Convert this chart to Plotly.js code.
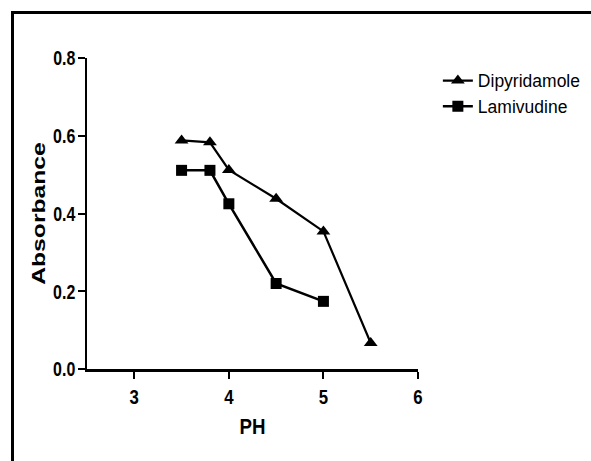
<!DOCTYPE html>
<html>
<head>
<meta charset="utf-8">
<script src="https://cdn.plot.ly/plotly-3.0.1.min.js"></script>
<style>
html,body{margin:0;padding:0;background:#fff;overflow:hidden;}
#frame{position:absolute;left:11px;top:11px;width:700px;height:600px;border-left:3.5px solid #000;border-top:3.5px solid #000;box-sizing:border-box;pointer-events:none;z-index:5;}
#chart{position:absolute;left:0;top:0;width:591px;height:461px;}
</style>
</head>
<body>
<div id="chart"></div>
<div id="frame"></div>
<script>
var phDipyridamole = [3.5, 3.8, 4.0, 4.5, 5.0, 5.5];
var absDipyridamole = [0.588, 0.583, 0.512, 0.438, 0.354, 0.067];
var phLamivudine = [3.5, 3.8, 4.0, 4.5, 5.0];
var absLamivudine = [0.511, 0.511, 0.425, 0.220, 0.174];
var xTicks = [3, 4, 5, 6];
var yTicks = [0.0, 0.2, 0.4, 0.6, 0.8];

var sans = '"Liberation Sans", Arial, sans-serif';

var traces = [
  {x: phDipyridamole, y: absDipyridamole, name: 'Dipyridamole', type: 'scatter', mode: 'lines+markers',
   line: {color: '#000', width: 2.2}, marker: {symbol: 'triangle-up', size: 12, color: '#000'}},
  {x: phLamivudine, y: absLamivudine, name: 'Lamivudine', type: 'scatter', mode: 'lines+markers',
   line: {color: '#000', width: 2.5}, marker: {symbol: 'square', size: 11, color: '#000'}}
];

var layout = {
  width: 591, height: 461,
  margin: {l: 87, r: 173, t: 58, b: 92, autoexpand: false},
  paper_bgcolor: '#fff', plot_bgcolor: '#fff',
  showlegend: true,
  legend: {x: 1.06, y: 0.985, xanchor: 'left', yanchor: 'top',
           font: {family: sans, size: 17.5, color: '#000'},
           bgcolor: 'rgba(0,0,0,0)'},
  xaxis: {range: [2.5, 6], tickvals: xTicks, ticktext: xTicks.map(String),
          showgrid: false, zeroline: false, showline: true, linecolor: '#000', linewidth: 2.5,
          ticks: 'outside', ticklen: 7, tickwidth: 2, tickcolor: '#000',
          tickfont: {family: sans, size: 21, color: '#000', weight: 'bold'},
          title: {text: '<b>PH</b>', font: {family: sans, size: 22, color: '#000'}, standoff: 12}},
  yaxis: {range: [0, 0.8], tickvals: yTicks, ticktext: yTicks.map(function(v){return v.toFixed(1);}),
          showgrid: false, zeroline: false, showline: true, linecolor: '#000', linewidth: 2.5,
          ticks: 'outside', ticklen: 7, tickwidth: 2, tickcolor: '#000',
          tickfont: {family: sans, size: 21, color: '#000', weight: 'bold'},
          title: {text: '<b>Absorbance</b>', font: {family: sans, size: 19, color: '#000'}, standoff: 4}}
};

// squeeze / stretch text along its reading direction to mimic the condensed original lettering
function stretchText(el, s, dx) {
  var bb = el.getBBox();
  var anchor = el.getAttribute('text-anchor') || 'start';
  var cx = anchor === 'middle' ? bb.x + bb.width / 2 : (anchor === 'end' ? bb.x + bb.width : bb.x);
  var cy = bb.y + bb.height / 2;
  var t = el.getAttribute('transform') || '';
  var pre = dx ? 'translate(' + dx + ',0) ' : '';
  el.setAttribute('transform', pre + t + ' translate(' + cx + ',' + cy + ') scale(' + s + ',1) translate(' + (-cx) + ',' + (-cy) + ')');
}

Plotly.newPlot('chart', traces, layout, {displayModeBar: false, staticPlot: true}).then(function(gd) {
  gd.querySelectorAll('.xtick text').forEach(function(el){ stretchText(el, 0.8); });
  gd.querySelectorAll('.ytick text').forEach(function(el){ stretchText(el, 0.76, 2); });
  gd.querySelectorAll('.xtitle').forEach(function(el){ stretchText(el, 0.85); });
  gd.querySelectorAll('.ytitle').forEach(function(el){ stretchText(el, 1.3, 10); });
});
</script>
</body>
</html>
